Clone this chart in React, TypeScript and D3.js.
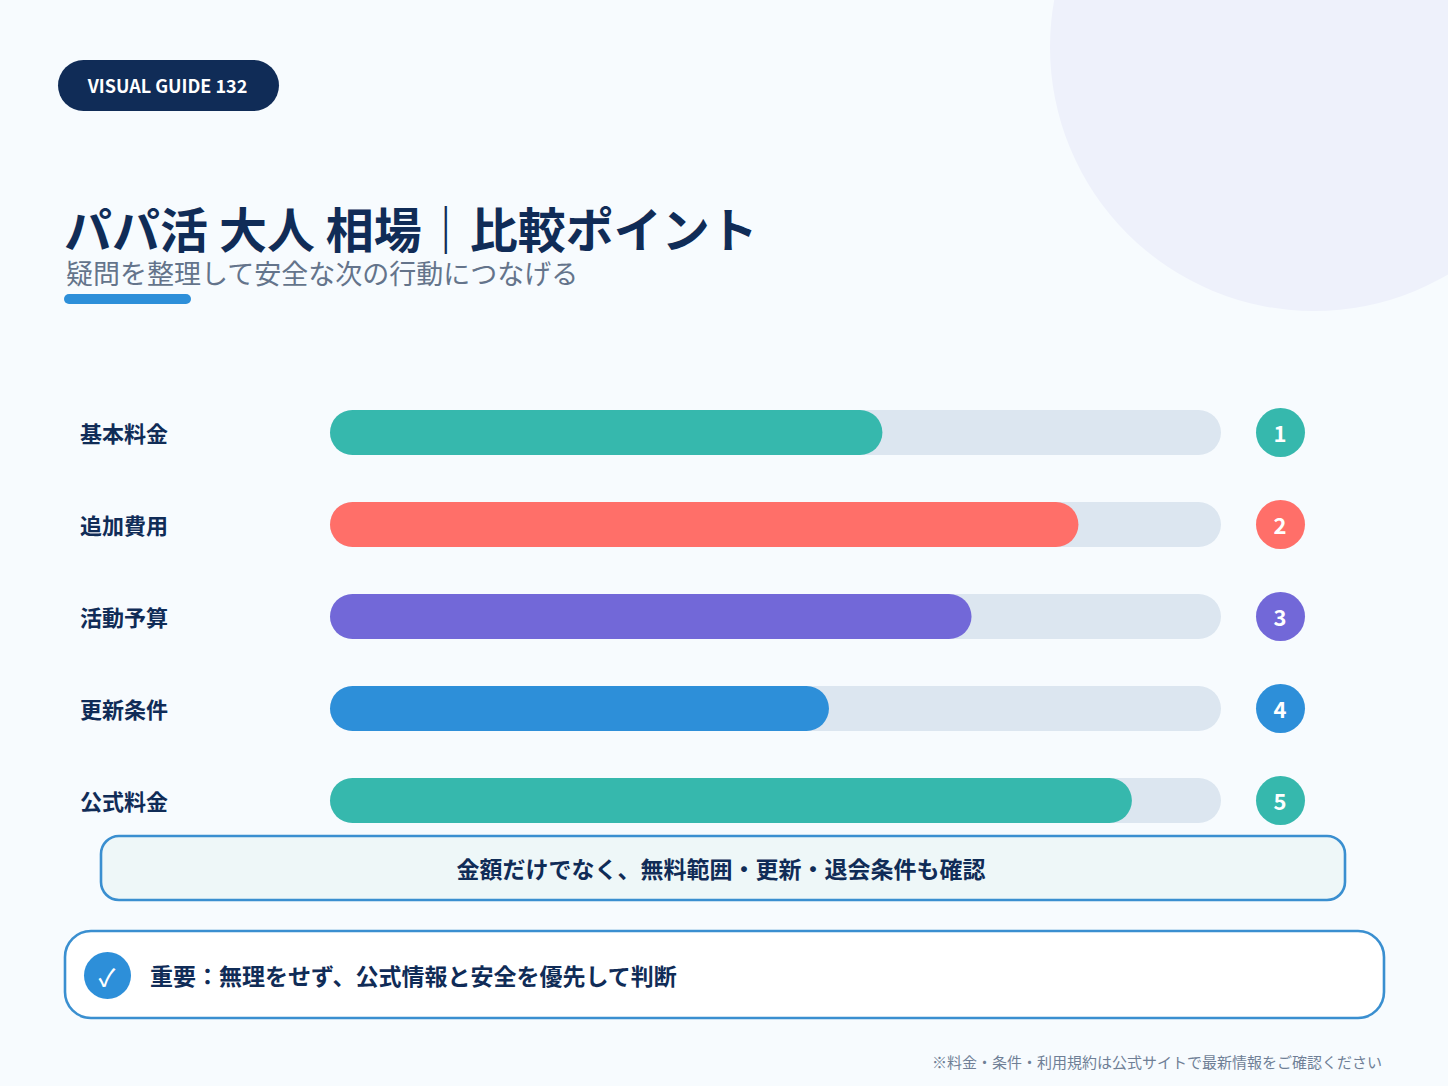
import React from "react";
import * as d3 from "d3";

const categories = ["基本料金", "追加費用", "活動予算", "更新条件", "公式料金"];
const values = [62, 84, 72, 56, 90];
const ranks = ["1", "2", "3", "4", "5"];
const colors = ["#36b8ad", "#ff6f69", "#7268d8", "#2d8fd9", "#36b8ad"];
const badge = "VISUAL GUIDE 132";
const title = "パパ活 大人 相場｜比較ポイント";
const subtitle = "疑問を整理して安全な次の行動につなげる";
const noteText = "金額だけでなく、無料範囲・更新・退会条件も確認";
const importantText = "重要：無理をせず、公式情報と安全を優先して判断";
const footer = "※料金・条件・利用規約は公式サイトで最新情報をご確認ください";

const FONT = "'Noto Sans CJK JP', 'Noto Sans', sans-serif";
const NAVY = "#102c57";

export default function App() {
  const x = d3.scaleLinear().domain([0, 100]).range([330, 1221]);
  const y = d3.scalePoint<string>().domain(categories).range([432.5, 800.5]);
  const barH = 45;
  return (
    <svg width={1448} height={1086} viewBox="0 0 1448 1086"
      style={{ position: "absolute", left: 0, top: 0, fontFamily: FONT }}>
      <rect width={1448} height={1086} fill="#f7fbfe" />
      <circle cx={1314} cy={47} r={264} fill="#eef1fb" />
      <rect x={58} y={60} width={221} height={51} rx={25.5} fill={NAVY} />
      <text x={167.5} y={93} textAnchor="middle" fontSize={18} fontWeight={700} fill="#fff">{badge}</text>
      <text x={64} y={248} fontSize={48} fontWeight={700} fill={NAVY}>{title}</text>
      <text x={66} y={284} fontSize={27} fontWeight={400} fill="#64748b">{subtitle}</text>
      <rect x={64} y={294} width={127} height={10} rx={5} fill="#2d8fd9" />
      {categories.map((c, i) => {
        const cy = y(c)!;
        return (
          <g key={c}>
            <text x={80} y={cy + 9} fontSize={22} fontWeight={700} fill={NAVY}>{c}</text>
            <rect x={x(0)} y={cy - barH / 2} width={x(100) - x(0)} height={barH} rx={barH / 2} fill="#dce6f0" />
            <rect x={x(0)} y={cy - barH / 2} width={x(values[i]) - x(0)} height={barH} rx={barH / 2} fill={colors[i]} />
            <circle cx={1280.5} cy={cy} r={24.5} fill={colors[i]} />
            <text x={1280} y={cy + 9} textAnchor="middle" fontSize={22} fontWeight={700} fill="#fff">{ranks[i]}</text>
          </g>
        );
      })}
      <rect x={101} y={836} width={1244} height={64} rx={18} fill="#eef7f8" stroke="#3a8fd0" strokeWidth={2.6} />
      <text x={721} y={878} textAnchor="middle" fontSize={23} fontWeight={700} fill={NAVY}>{noteText}</text>
      <rect x={65} y={931} width={1319} height={87} rx={26} fill="#fff" stroke="#3a8fd0" strokeWidth={2.6} />
      <circle cx={107.5} cy={975.5} r={23.5} fill="#2d8fd9" />
      <text x={107} y={986} textAnchor="middle" fontSize={24} fontWeight={500} fill="#fff">✓</text>
      <text x={150} y={985} fontSize={23} fontWeight={700} fill={NAVY}>{importantText}</text>
      <text x={1382} y={1068} textAnchor="end" fontSize={15} fill="#6f7f96">{footer}</text>
    </svg>
  );
}
